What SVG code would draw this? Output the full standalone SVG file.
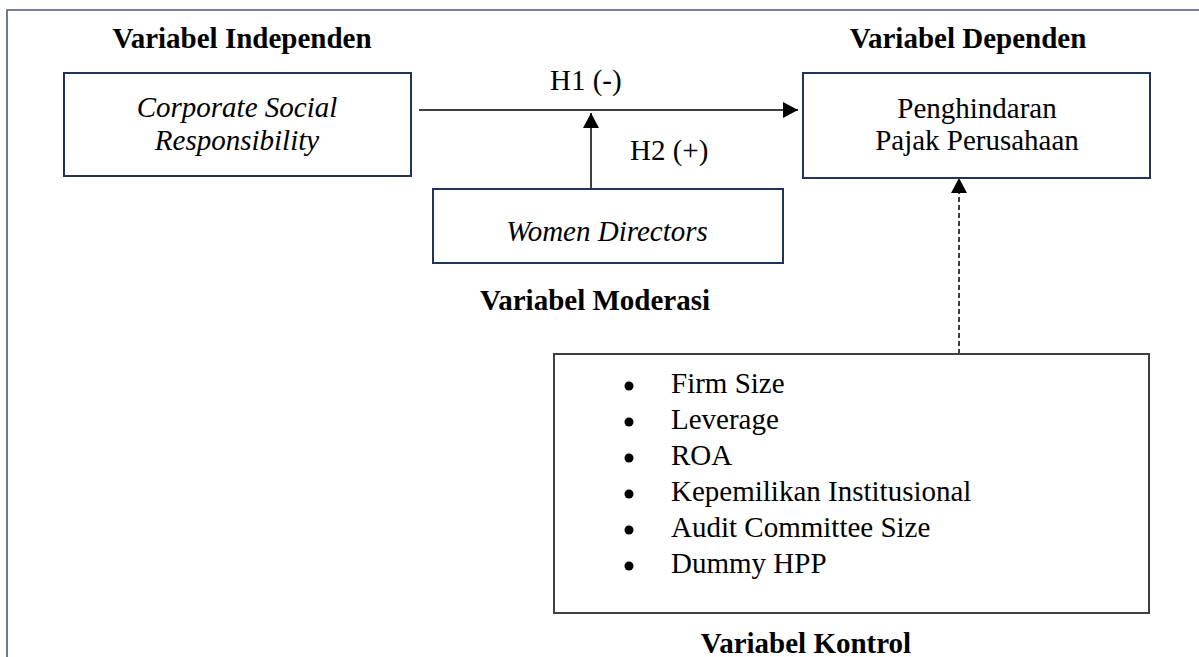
<svg xmlns="http://www.w3.org/2000/svg" width="1199" height="657" viewBox="0 0 1199 657">
<defs>
<style>
.t{font-family:"Liberation Serif","Times New Roman",serif;font-size:29px;fill:#000}
.b{font-weight:bold}
.i{font-style:italic}
.box{fill:#fff;stroke:#1f3458;stroke-width:2}
.kbox{fill:#fff;stroke:#404040;stroke-width:2}
.con{stroke:#000;stroke-width:1.5;fill:none}
</style>
<marker id="ah" markerWidth="15" markerHeight="16" refX="15" refY="8" orient="auto" markerUnits="userSpaceOnUse">
<path d="M0,0 L15,8 L0,16 Z" fill="#000"/>
</marker>
</defs>
<rect width="1199" height="657" fill="#fff"/>
<g id="frame">
<path d="M7,657 L7,10 L1199,10" fill="none" stroke="#4a5a78" stroke-width="1.6"/>
</g>
<g id="labels">
<text class="t b" x="242" y="48" text-anchor="middle">Variabel Independen</text>
<text class="t b" x="968" y="48" text-anchor="middle">Variabel Dependen</text>
<text class="t b" x="595" y="310" text-anchor="middle">Variabel Moderasi</text>
<text class="t b" x="806" y="653" text-anchor="middle">Variabel Kontrol</text>
<text class="t" x="550" y="90">H1 (-)</text>
<text class="t" x="630" y="160">H2 (+)</text>
</g>
<g id="connectors">
<line class="con" x1="419" y1="110" x2="798" y2="110" marker-end="url(#ah)"/>
<line class="con" x1="591" y1="189" x2="591" y2="113" marker-end="url(#ah)"/>
<line class="con" x1="959" y1="354" x2="959" y2="178" stroke-dasharray="5,3" stroke-width="1.2" marker-end="url(#ah)"/>
</g>
<g id="csr">
<rect class="box" x="64" y="73" width="347" height="103"/>
<text class="t i" x="237" y="117" text-anchor="middle">Corporate Social</text>
<text class="t i" x="237" y="150" text-anchor="middle">Responsibility</text>
</g>
<g id="penghindaran">
<rect class="box" x="803" y="73" width="347" height="105"/>
<text class="t" x="977" y="118" text-anchor="middle">Penghindaran</text>
<text class="t" x="977" y="150" text-anchor="middle">Pajak Perusahaan</text>
</g>
<g id="women">
<rect class="box" x="433" y="189" width="350" height="74"/>
<text class="t i" x="607" y="241" text-anchor="middle">Women Directors</text>
</g>
<g id="kontrol">
<rect class="kbox" x="554" y="354" width="595" height="259"/>
<g fill="#000">
<circle cx="629" cy="386" r="4.5"/>
<circle cx="629" cy="422" r="4.5"/>
<circle cx="629" cy="458" r="4.5"/>
<circle cx="629" cy="494" r="4.5"/>
<circle cx="629" cy="530" r="4.5"/>
<circle cx="629" cy="566" r="4.5"/>
</g>
<text class="t" x="671" y="393">Firm Size</text>
<text class="t" x="671" y="429">Leverage</text>
<text class="t" x="671" y="465">ROA</text>
<text class="t" x="671" y="501">Kepemilikan Institusional</text>
<text class="t" x="671" y="537">Audit Committee Size</text>
<text class="t" x="671" y="573">Dummy HPP</text>
</g>
</svg>
